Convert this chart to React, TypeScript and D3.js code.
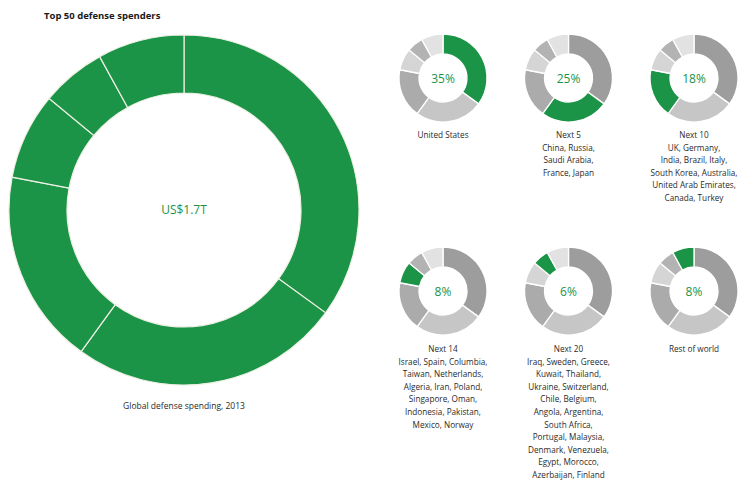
import React from "react";
import * as d3 from "d3";

const groups = ["United States", "Next 5", "Next 10", "Next 14", "Next 20", "Rest of world"];
const shares = [35, 25, 18, 8, 6, 8];
const shareLabels = ["35%", "25%", "18%", "8%", "6%", "8%"];
const countryLines: string[][] = [
  [],
  ["China, Russia,", "Saudi Arabia,", "France, Japan"],
  ["UK, Germany,", "India, Brazil, Italy,", "South Korea, Australia,", "United Arab Emirates,", "Canada, Turkey"],
  ["Israel, Spain, Columbia,", "Taiwan, Netherlands,", "Algeria, Iran, Poland,", "Singapore, Oman,", "Indonesia, Pakistan,", "Mexico, Norway"],
  ["Iraq, Sweden, Greece,", "Kuwait, Thailand,", "Ukraine, Switzerland,", "Chile, Belgium,", "Angola, Argentina,", "South Africa,", "Portugal, Malaysia,", "Denmark, Venezuela,", "Egypt, Morocco,", "Azerbaijan, Finland"],
  [],
];
const title = "Top 50 defense spenders";
const totalLabel = "US$1.7T";
const caption = "Global defense spending, 2013";

const GREEN = "#1b9447";
const grays = ["#9d9d9d", "#c6c6c6", "#ababab", "#d5d5d5", "#b3b3b3", "#e2e2e2"];
const FONT = "'Open Sans', 'Noto Sans', sans-serif";

export default function App() {
  const pie = d3.pie<number>().sort(null).value((d) => d);
  const arcsData = pie(shares);
  const bigArc = d3.arc<d3.PieArcDatum<number>>().innerRadius(117).outerRadius(175);
  const smallArc = d3.arc<d3.PieArcDatum<number>>().innerRadius(24).outerRadius(44);

  const colX = d3.scalePoint<number>().domain([0, 1, 2]).range([443, 694]);
  const rowY = [78, 291];
  const labelY = [138, 352];
  const lineH = 12.6;

  return (
    <svg width={739} height={481} style={{ position: "absolute", left: 0, top: 0, background: "#fff" }}>
      <text x={44} y={19} fontFamily={FONT} fontWeight={700} fontSize={9.5} fill="#1a1a1a">
        {title}
      </text>
      <g transform="translate(184,210)">
        {arcsData.map((a, i) => (
          <path key={i} d={bigArc(a) || ""} fill={GREEN} stroke="#eef0e4" strokeWidth={1.2} />
        ))}
        <text x={0} y={4} textAnchor="middle" fontFamily={FONT} fontSize={12} fill={GREEN}>
          {totalLabel}
        </text>
        <text x={0} y={199} textAnchor="middle" fontFamily={FONT} fontSize={8.5} fill="#2a2a2a">
          {caption}
        </text>
      </g>
      {groups.map((g, gi) => {
        const cx = colX(gi % 3) as number;
        const row = Math.floor(gi / 3);
        const cy = rowY[row];
        const lines = [g, ...countryLines[gi]];
        return (
          <g key={g}>
            <g transform={`translate(${cx},${cy})`}>
              {arcsData.map((a, i) => (
                <path key={i} d={smallArc(a) || ""} fill={i === gi ? GREEN : grays[i]} stroke="#fff" strokeWidth={1.3} />
              ))}
              <text x={0} y={4.5} textAnchor="middle" fontFamily={FONT} fontSize={12} fill={GREEN}>
                {shareLabels[gi]}
              </text>
            </g>
            {lines.map((l, li) => (
              <text key={li} x={cx} y={labelY[row] + li * lineH} textAnchor="middle" fontFamily={FONT} fontSize={8.2} fill="#2a2a2a">
                {l}
              </text>
            ))}
          </g>
        );
      })}
    </svg>
  );
}
